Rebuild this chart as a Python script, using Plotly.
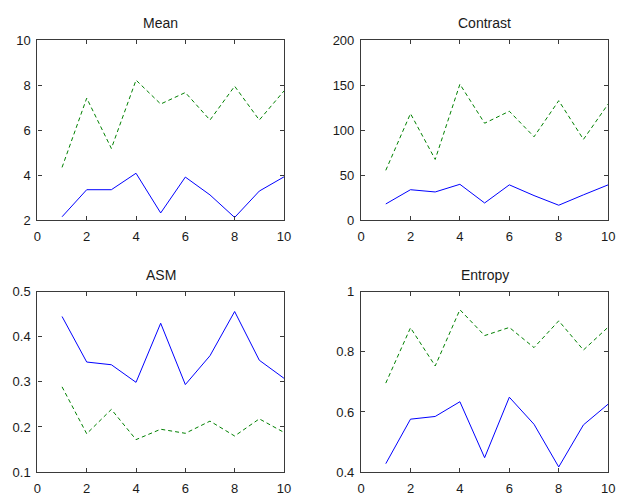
import plotly.graph_objects as go

x = list(range(1, 11))

mean_blue = [2.16, 3.36, 3.36, 4.09, 2.33, 3.92, 3.13, 2.13, 3.30, 3.93]
mean_green = [4.35, 7.42, 5.19, 8.22, 7.16, 7.67, 6.45, 7.95, 6.45, 7.74]

contrast_blue = [18.2, 34.0, 31.5, 40.0, 19.3, 39.4, 27.5, 16.8, 28.3, 39.4]
contrast_green = [55.5, 118.4, 67.6, 151.0, 107.7, 121.0, 92.7, 132.7, 89.8, 129.0]

asm_blue = [0.445, 0.344, 0.338, 0.299, 0.430, 0.294, 0.358, 0.456, 0.348, 0.308]
asm_green = [0.289, 0.185, 0.239, 0.172, 0.195, 0.186, 0.213, 0.180, 0.218, 0.188]

entropy_blue = [0.428, 0.576, 0.585, 0.634, 0.448, 0.649, 0.559, 0.417, 0.557, 0.626]
entropy_green = [0.696, 0.880, 0.753, 0.940, 0.854, 0.881, 0.814, 0.903, 0.806, 0.882]

titles = ["Mean", "Contrast", "ASM", "Entropy"]
y_ranges = [[2, 10], [0, 200], [0.1, 0.5], [0.4, 1]]
y_dticks = [2, 50, 0.1, 0.2]
x_ticks = [0, 2, 4, 6, 8, 10]

panels = [
    (mean_blue, mean_green),
    (contrast_blue, contrast_green),
    (asm_blue, asm_green),
    (entropy_blue, entropy_green),
]

W, H = 623, 499
xdoms = [[34 / W, 285 / W], [363.5 / W, 615 / W]]
ydoms = [[1 - 220 / H, 1 - 34 / H], [1 - 479.5 / H, 1 - 293.5 / H]]

fig = go.Figure()
font = dict(family="Liberation Sans, Arial, sans-serif", size=13, color="#1a1a1a")
annotations = []

for i, (b, g) in enumerate(panels):
    r, c = divmod(i, 2)
    suffix = "" if i == 0 else str(i + 1)
    xa = "x" + suffix
    ya = "y" + suffix
    fig.add_trace(go.Scatter(x=x, y=g, mode="lines", xaxis=xa, yaxis=ya,
                             line=dict(color="#008000", width=1, dash="4px,3px"),
                             showlegend=False))
    fig.add_trace(go.Scatter(x=x, y=b, mode="lines", xaxis=xa, yaxis=ya,
                             line=dict(color="#0000ff", width=1),
                             showlegend=False))
    axis_common = dict(showline=True, linecolor="#3a3a3a", linewidth=1.3,
                       mirror="ticks", ticks="inside", ticklen=4,
                       tickcolor="#3a3a3a", showgrid=False, zeroline=False,
                       tickfont=font)
    fig.layout["xaxis" + suffix] = dict(domain=xdoms[c], range=[0, 10],
                                        tickvals=x_ticks, anchor=ya,
                                        ticklabelstandoff=4,
                                        **axis_common)
    fig.layout["yaxis" + suffix] = dict(domain=ydoms[r], range=y_ranges[i],
                                        dtick=y_dticks[i], anchor=xa,
                                        ticklabelstandoff=3,
                                        **axis_common)
    annotations.append(dict(text=titles[i], x=(xdoms[c][0] + xdoms[c][1]) / 2,
                            y=ydoms[r][1], xref="paper", yref="paper",
                            xanchor="center", yanchor="bottom", yshift=7,
                            showarrow=False,
                            font=dict(family="Liberation Sans, Arial, sans-serif",
                                      size=14, color="#1a1a1a")))

fig.update_layout(width=W, height=H, margin=dict(l=0, r=0, t=0, b=0),
                  paper_bgcolor="white", plot_bgcolor="white",
                  annotations=annotations)

post = """
document.documentElement.style.margin='0';
document.documentElement.style.overflow='hidden';
document.body.style.margin='0';
document.body.style.overflow='hidden';
"""

fig.write_html("out.html", config={"displayModeBar": False}, post_script=post)
